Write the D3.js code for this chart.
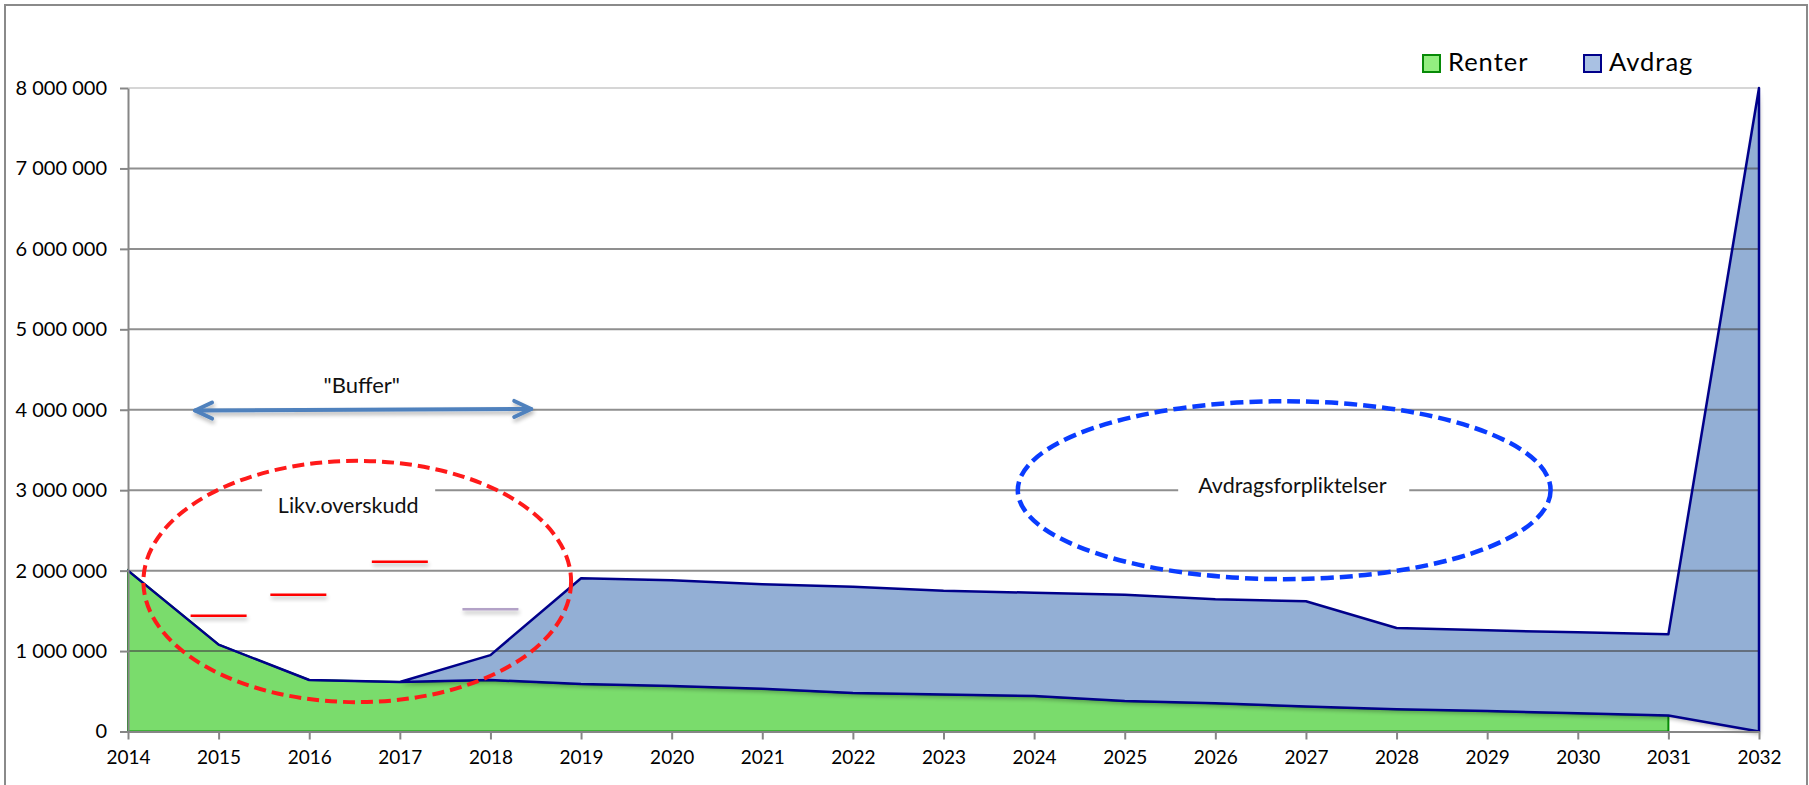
<!DOCTYPE html>
<html>
<head>
<meta charset="utf-8">
<script src="https://cdn.jsdelivr.net/npm/d3@7"></script>
<style>
  body { margin: 0; background: #fff; }
  svg { display: block; font-family: Lato, "Open Sans", sans-serif; }
</style>
</head>
<body>
<svg id="chart" width="1809" height="785"></svg>
<script>
// ---- data ----
const years = [2014, 2015, 2016, 2017, 2018, 2019, 2020, 2021, 2022, 2023,
               2024, 2025, 2026, 2027, 2028, 2029, 2030, 2031, 2032];
// interest, blank for the last year
const renter = [2000000, 1080000, 640000, 615000, 640000, 590000, 566000, 530000, 480000, 460000,
                440000, 380000, 350000, 310000, 276000, 255000, 226000, 200000, null];
// repayments, stacked on top of renter
const avdrag = [0, 0, 0, 0, 310000, 1315000, 1314000, 1300000, 1320000, 1290000,
                1285000, 1320000, 1295000, 1310000, 1011000, 1003000, 1007000, 1008000, 8000000];
const yTicks = [0, 1000000, 2000000, 3000000, 4000000, 5000000, 6000000, 7000000, 8000000];

// liquidity surplus markers
const likvYears = [2015, 2015.88, 2017, 2018];
const likvValues = [1440000, 1700000, 2110000, 1520000];
const likvColors = ["#ff0000", "#ff0000", "#ff0000", "#b3a2c7"];

const legendItems = ["Renter", "Avdrag"];

// ---- setup ----
const svg = d3.select('#chart');
const x = d3.scaleLinear().domain([2014, 2032]).range([128, 1759]);
const y = d3.scaleLinear().domain([0, 8000000]).range([731.5, 88]);

const defs = svg.append('defs');
// user space filter so flat lines still get a shadow
const shadow = defs.append('filter').attr('id', 'shadow')
  .attr('filterUnits', 'userSpaceOnUse')
  .attr('x', 0).attr('y', 0).attr('width', 1809).attr('height', 785);
shadow.append('feGaussianBlur').attr('in', 'SourceAlpha').attr('stdDeviation', 2).attr('result', 'blur');
shadow.append('feOffset').attr('in', 'blur').attr('dx', 1).attr('dy', 3).attr('result', 'off');
shadow.append('feComponentTransfer').attr('in', 'off').attr('result', 'offA')
  .append('feFuncA').attr('type', 'linear').attr('slope', 0.3);
const sm = shadow.append('feMerge');
sm.append('feMergeNode').attr('in', 'offA');
sm.append('feMergeNode').attr('in', 'SourceGraphic');

// outer frame
svg.append('rect')
  .attr('x', 5).attr('y', 5).attr('width', 1802).attr('height', 800)
  .attr('fill', 'none').attr('stroke', '#8a8a8a').attr('stroke-width', 2);

// ---- areas ----
const rows = years.map((yr, i) => ({
  yr: yr,
  r: renter[i],
  base: renter[i] == null ? 0 : renter[i],
  top: (renter[i] == null ? 0 : renter[i]) + avdrag[i]
}));

const greenArea = d3.area()
  .x(d => x(d.yr))
  .y0(y(0))
  .y1(d => y(d.r));

svg.append('path')
  .datum(rows.filter(d => d.r != null))
  .attr('d', greenArea)
  .attr('fill', '#7adc6c')
  .attr('stroke', '#078a07')
  .attr('stroke-width', 2);

const blueArea = d3.area()
  .x(d => x(d.yr))
  .y0(d => y(d.base))
  .y1(d => y(d.top));

svg.append('path')
  .datum(rows)
  .attr('d', blueArea)
  .attr('fill', '#93afd5')
  .attr('filter', 'url(#shadow)');

// gridlines
svg.append('g')
  .selectAll('line')
  .data(yTicks.filter(v => v > 0))
  .enter()
  .append('line')
  .attr('x1', x(2014)).attr('x2', x(2032))
  .attr('y1', d => y(d)).attr('y2', d => y(d))
  .attr('stroke', d => d === 8000000 ? '#d6d6d6' : '#444')
  .attr('stroke-opacity', d => d === 8000000 ? 1 : 0.6)
  .attr('stroke-width', 2);

// outline of the repayment area
svg.append('path')
  .datum(rows)
  .attr('d', blueArea)
  .attr('fill', 'none')
  .attr('stroke', '#00008a')
  .attr('stroke-width', 2.5)
  .attr('stroke-linejoin', 'round');

// ---- axes ----
const fmt = v => d3.format(',')(v).replace(/,/g, ' ');

const yAxis = svg.append('g')
  .attr('transform', `translate(${x(2014)},0)`)
  .call(d3.axisLeft(y).tickValues(yTicks).tickFormat(fmt).tickSizeInner(8).tickSizeOuter(0).tickPadding(13));

const xAxis = svg.append('g')
  .attr('transform', `translate(0,${y(0)})`)
  .call(d3.axisBottom(x).tickValues(years).tickFormat(d3.format('d')).tickSizeInner(8).tickSizeOuter(0).tickPadding(11));

[yAxis, xAxis].forEach(ax => {
  ax.select('.domain').attr('stroke', '#868686').attr('stroke-width', 2);
  ax.selectAll('.tick line').attr('stroke', '#868686').attr('stroke-width', 2);
  ax.selectAll('.tick text')
    .attr('font-family', 'Lato, sans-serif')
    .attr('font-size', '19px')
    .attr('fill', '#000');
});
yAxis.selectAll('.tick text').attr('font-size', '20px');

// ---- annotations ----
const ann = svg.append('g');

// white label boxes that cut the 3 000 000 gridline
const labels = [
  { text: 'Likv.overskudd', cx: 2016.43, base: 2720000, from: 2015.48, to: 2017.39 },
  { text: 'Avdragsforpliktelser', cx: 2026.85, base: 2960000, from: 2025.59, to: 2028.14 }
];
labels.forEach(l => {
  ann.append('rect')
    .attr('x', x(l.from)).attr('width', x(l.to) - x(l.from))
    .attr('y', y(3000000) - 8).attr('height', 40)
    .attr('fill', '#fff');
  ann.append('text')
    .attr('x', x(l.cx)).attr('y', y(l.base))
    .attr('text-anchor', 'middle')
    .attr('font-size', '21.5px')
    .attr('fill', '#111')
    .text(l.text);
});

// dashed ellipses
ann.append('ellipse')
  .attr('cx', x(2016.53)).attr('cy', y(1865000))
  .attr('rx', x(2016.53 + 2.36) - x(2016.53))
  .attr('ry', y(0) - y(1500000))
  .attr('fill', 'none')
  .attr('stroke', '#ff1a1a')
  .attr('stroke-width', 4)
  .attr('stroke-dasharray', '12,6');

ann.append('ellipse')
  .attr('cx', x(2026.76)).attr('cy', y(3000000))
  .attr('rx', x(2026.76 + 2.94) - x(2026.76))
  .attr('ry', y(0) - y(1106000))
  .attr('fill', 'none')
  .attr('stroke', '#0a3cff')
  .attr('stroke-width', 4.5)
  .attr('stroke-dasharray', '13,6');

// "Buffer" double arrow
const ax1 = x(2014.74), ay1 = y(3990000), ax2 = x(2018.45), ay2 = y(4010000);
const arrow = ann.append('g')
  .attr('stroke', '#4f81bd').attr('stroke-width', 4)
  .attr('stroke-linecap', 'round').attr('stroke-linejoin', 'round')
  .attr('fill', 'none')
  .attr('filter', 'url(#shadow)');
arrow.append('line').attr('x1', ax1).attr('y1', ay1).attr('x2', ax2).attr('y2', ay2);
arrow.append('path').attr('d', `M${ax1 + 17},${ay1 - 8}L${ax1},${ay1}L${ax1 + 17},${ay1 + 8}`);
arrow.append('path').attr('d', `M${ax2 - 17},${ay2 - 8}L${ax2},${ay2}L${ax2 - 17},${ay2 + 8}`);

ann.append('text')
  .attr('x', x(2016.58)).attr('y', y(4210000))
  .attr('text-anchor', 'middle')
  .attr('font-size', '22px')
  .attr('fill', '#111')
  .text('"Buffer"');

// surplus markers
ann.selectAll('.likv')
  .data(likvYears)
  .enter()
  .append('line')
  .attr('class', 'likv')
  .attr('x1', d => x(d) - 28).attr('x2', d => x(d) + 28)
  .attr('y1', (d, i) => y(likvValues[i])).attr('y2', (d, i) => y(likvValues[i]))
  .attr('stroke', (d, i) => likvColors[i])
  .attr('stroke-width', 2.5)
  .attr('filter', 'url(#shadow)');

// ---- legend ----
const legend = svg.append('g');
const legendX = [1423, 1584];
const legendFill = ['#93ee80', '#a9c1e3'];
const legendStroke = ['#078a07', '#00008a'];
legendItems.forEach((name, i) => {
  legend.append('rect')
    .attr('x', legendX[i]).attr('y', 55).attr('width', 17).attr('height', 17)
    .attr('fill', legendFill[i]).attr('stroke', legendStroke[i]).attr('stroke-width', 2);
  legend.append('text')
    .attr('x', legendX[i] + 25).attr('y', 71)
    .attr('font-size', '25.5px')
    .attr('letter-spacing', '1px')
    .attr('fill', '#000')
    .text(name);
});
</script>
</body>
</html>
